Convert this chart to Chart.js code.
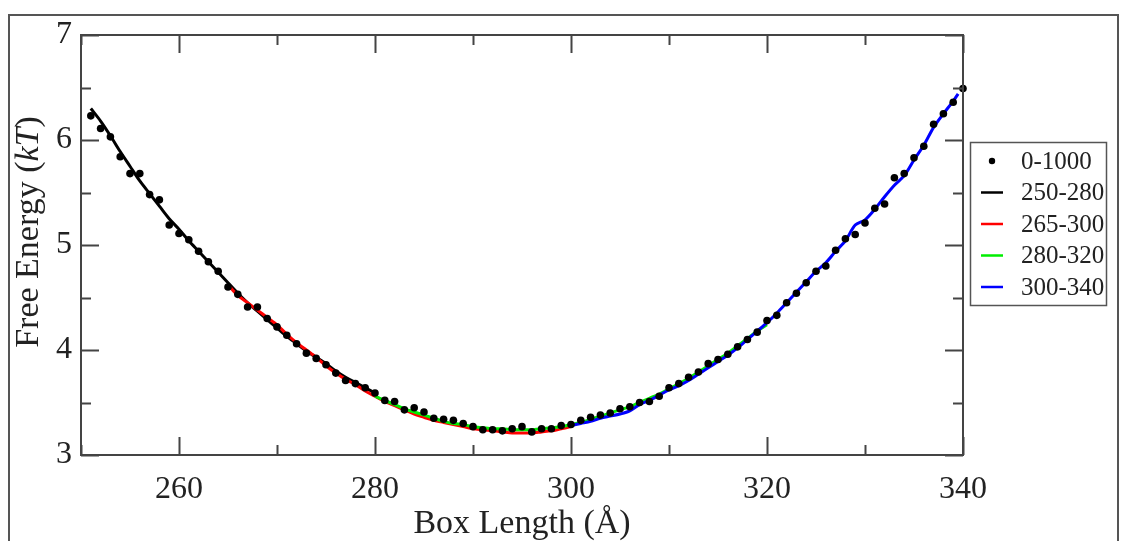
<!DOCTYPE html>
<html><head><meta charset="utf-8">
<script src="https://cdn.jsdelivr.net/npm/chart.js@4.4.1/dist/chart.umd.min.js"></script>
<style>
html,body{margin:0;padding:0;background:#fff;width:1121px;height:541px;overflow:hidden}
#frame{position:absolute;left:8px;top:14px;width:1111px;height:600px;border:2px solid #555;box-sizing:border-box}
#wrap{position:absolute;left:0;top:0;width:1121px;height:541px}
</style></head><body>
<div id="frame"></div>
<div id="wrap"><canvas id="c" width="1121" height="541"></canvas></div>
<script>
// ---- data ----
const boxLength = [251,252,253,254,255,256,257,258,259,260,261,262,263,264,265,266,267,268,269,270,
  271,272,273,274,275,276,277,278,279,280,281,282,283,284,285,286,287,288,289,290,
  291,292,293,294,295,296,297,298,299,300,301,302,303,304,305,306,307,308,309,310,
  311,312,313,314,315,316,317,318,319,320,321,322,323,324,325,326,327,328,329,330,
  331,332,333,334,335,336,337,338,339,340];
const energy0_1000 = [6.23,6.11,6.03,5.84,5.68,5.68,5.48,5.43,5.19,5.11,5.05,4.94,4.84,4.75,4.60,4.53,4.41,4.41,4.30,4.22,
  4.14,4.06,3.97,3.92,3.86,3.78,3.71,3.68,3.64,3.59,3.52,3.51,3.43,3.45,3.41,3.35,3.34,3.33,3.30,3.27,
  3.24,3.24,3.23,3.25,3.27,3.22,3.25,3.25,3.28,3.29,3.33,3.36,3.38,3.40,3.44,3.46,3.50,3.51,3.56,3.64,
  3.68,3.74,3.79,3.87,3.91,3.96,4.03,4.10,4.17,4.28,4.33,4.45,4.54,4.64,4.75,4.80,4.95,5.06,5.10,5.21,
  5.35,5.39,5.64,5.68,5.83,5.94,6.15,6.25,6.36,6.49];

const fit250_280_x = [251,252,253,254,255,256,257,258,259,260,261,262,263,264,265,266,267,268,269,270,
  271,272,273,274,275,276,277,278,279,280];
const fit250_280_y = [6.30,6.18,6.04,5.89,5.75,5.61,5.49,5.37,5.25,5.15,5.04,4.94,4.84,4.74,4.64,4.54,4.45,4.37,4.29,4.21,
  4.13,4.06,3.99,3.93,3.87,3.80,3.74,3.69,3.64,3.59];

const fit265_300_x = [265,266,267,268,269,270,271,272,273,274,275,276,277,278,279,280,281,282,283,284,
  285,286,287,288,289,290,291,292,293,294,295,296,297,298,299,300];
const fit265_300_y = [4.62,4.52,4.45,4.38,4.31,4.24,4.15,4.07,4.00,3.93,3.85,3.78,3.72,3.67,3.61,3.56,3.51,3.47,3.43,3.39,
  3.36,3.33,3.31,3.29,3.27,3.25,3.24,3.23,3.22,3.21,3.21,3.21,3.22,3.23,3.25,3.27];

const fit280_320_x = [280,281,282,283,284,285,286,287,288,289,290,291,292,293,294,295,296,297,298,299,
  300,301,302,303,304,305,306,307,308,309,310,311,312,313,314,315,316,317,318,319,320];
const fit280_320_y = [3.56,3.52,3.48,3.44,3.41,3.38,3.35,3.32,3.30,3.29,3.27,3.26,3.25,3.25,3.24,3.24,3.24,3.25,3.26,3.27,
  3.29,3.31,3.34,3.37,3.40,3.43,3.46,3.50,3.54,3.58,3.63,3.68,3.73,3.79,3.85,3.91,3.97,4.04,4.11,4.18,4.24];

const fit300_340_x = [300,301,302,303,304,305,306,307,308,309,310,311,312,313,314,315,316,317,318,319,
  320,321,322,323,324,325,326,327,328,329,330,331,332,333,334,335,336,337,338,339,339.5];
const fit300_340_y = [3.28,3.30,3.32,3.35,3.37,3.39,3.42,3.48,3.52,3.57,3.62,3.66,3.71,3.77,3.83,3.89,3.95,4.02,4.10,4.18,
  4.26,4.35,4.45,4.55,4.65,4.75,4.83,4.94,5.04,5.19,5.24,5.34,5.46,5.57,5.66,5.81,5.95,6.12,6.25,6.37,6.44];

const seriesLabels = ['0-1000','250-280','265-300','280-320','300-340'];
const seriesColors = ['#000000','#000000','#ff0000','#00ee00','#0000ff'];

const xTickValues = [260,280,300,320,340];
const xMinorValues = [250,270,290,310,330];
const yTickValues = [3,4,5,6,7];
const yMinorValues = [3.5,4.5,5.5,6.5];

const xTitle = 'Box Length (Å)';
const yTitleParts = [['Free Energy (', false], ['kT', true], [')', false]];

// ---- helpers ----
const pts = (xs, ys) => xs.map((x, i) => ({x: x, y: ys[i]}));
const SERIF = '"Liberation Serif", "Times New Roman", serif';

const framePlugin = {
  id: 'frameTicks',
  afterDatasetsDraw(chart) {
    const {ctx, chartArea: a, scales: {x, y}} = chart;
    ctx.save();
    ctx.strokeStyle = '#444';
    ctx.lineWidth = 2;
    const major = 18, minor = 10;
    const drawX = (vals, len) => vals.forEach(v => {
      const px = Math.round(x.getPixelForValue(v)) + 0.5;
      ctx.beginPath(); ctx.moveTo(px, a.bottom); ctx.lineTo(px, a.bottom - len);
      ctx.moveTo(px, a.top); ctx.lineTo(px, a.top + len); ctx.stroke();
    });
    const drawY = (vals, len) => vals.forEach(v => {
      const py = Math.round(y.getPixelForValue(v)) + 0.5;
      ctx.beginPath(); ctx.moveTo(a.left, py); ctx.lineTo(a.left + len, py);
      ctx.moveTo(a.right, py); ctx.lineTo(a.right - len, py); ctx.stroke();
    });
    drawX(xTickValues, major); drawX(xMinorValues, minor);
    drawY(yTickValues, major); drawY(yMinorValues, minor);
    ctx.strokeRect(a.left, a.top, a.right - a.left, a.bottom - a.top);
    ctx.restore();
  }
};

const legendPlugin = {
  id: 'boxLegend',
  afterDraw(chart) {
    const ctx = chart.ctx;
    ctx.save();
    ctx.strokeStyle = '#555';
    ctx.lineWidth = 1.5;
    ctx.strokeRect(970.5, 142.5, 136, 163);
    ctx.font = '25px ' + SERIF;
    ctx.textBaseline = 'middle';
    ctx.fillStyle = '#222';
    const y0 = 161, dy = 31.5;
    chart.data.datasets.forEach((ds, i) => {
      const yy = y0 + i * dy;
      if (i === 0) {
        ctx.beginPath(); ctx.fillStyle = '#000';
        ctx.arc(992, yy, 3.2, 0, Math.PI * 2); ctx.fill();
      } else {
        ctx.strokeStyle = ds.borderColor; ctx.lineWidth = 2.5;
        ctx.beginPath(); ctx.moveTo(981, yy); ctx.lineTo(1003, yy); ctx.stroke();
      }
      ctx.fillStyle = '#222';
      ctx.fillText(ds.label, 1021, yy + 1);
    });
    ctx.restore();
  }
};

const yTitlePlugin = {
  id: 'yTitle',
  afterDraw(chart) {
    const ctx = chart.ctx;
    ctx.save();
    ctx.translate(29, 232);
    ctx.rotate(-Math.PI / 2);
    ctx.textBaseline = 'middle';
    ctx.fillStyle = '#222';
    const fonts = yTitleParts.map(p => (p[1] ? 'italic ' : '') + '34px ' + SERIF);
    let total = 0;
    const widths = yTitleParts.map((p, i) => { ctx.font = fonts[i]; const w = ctx.measureText(p[0]).width; total += w; return w; });
    let xx = -total / 2;
    yTitleParts.forEach((p, i) => { ctx.font = fonts[i]; ctx.fillText(p[0], xx, 0); xx += widths[i]; });
    ctx.restore();
  }
};

new Chart(document.getElementById('c'), {
  type: 'line',
  data: {
    datasets: [
      {label: seriesLabels[0], data: pts(boxLength, energy0_1000), showLine: false,
       pointRadius: 3.8, pointBackgroundColor: seriesColors[0], pointBorderWidth: 0, order: 0, clip: false},
      {label: seriesLabels[1], data: pts(fit250_280_x, fit250_280_y), borderColor: seriesColors[1],
       borderWidth: 3, pointRadius: 0, tension: 0.3, order: 4},
      {label: seriesLabels[2], data: pts(fit265_300_x, fit265_300_y), borderColor: seriesColors[2],
       borderWidth: 3, pointRadius: 0, tension: 0.3, order: 3},
      {label: seriesLabels[3], data: pts(fit280_320_x, fit280_320_y), borderColor: seriesColors[3],
       borderWidth: 3, pointRadius: 0, tension: 0.3, order: 2},
      {label: seriesLabels[4], data: pts(fit300_340_x, fit300_340_y), borderColor: seriesColors[4],
       borderWidth: 3, pointRadius: 0, tension: 0.3, order: 1}
    ]
  },
  options: {
    responsive: false,
    animation: false,
    layout: {padding: {left: 0, top: 35, right: 158, bottom: 0}},
    plugins: {legend: {display: false}, tooltip: {enabled: false}},
    scales: {
      x: {
        type: 'linear', min: 250, max: 340,
        afterBuildTicks: s => { s.ticks = xTickValues.map(v => ({value: v})); },
        afterFit: s => { s.height = 86; },
        grid: {display: false, drawTicks: false},
        border: {display: false},
        ticks: {padding: 15, color: '#222', font: {family: SERIF, size: 32}, maxRotation: 0, callback: v => String(v)},
        title: {display: true, text: xTitle, color: '#222', font: {family: SERIF, size: 34, lineHeight: 1.0}, padding: {top: 0, bottom: 0}}
      },
      y: {
        type: 'linear', min: 3, max: 7,
        afterBuildTicks: s => { s.ticks = yTickValues.map(v => ({value: v})); },
        afterFit: s => { s.width = 81; },
        grid: {display: false, drawTicks: false},
        border: {display: false},
        ticks: {padding: 9, color: '#222', font: {family: SERIF, size: 32}, callback: v => String(v)}
      }
    }
  },
  plugins: [framePlugin, legendPlugin, yTitlePlugin]
});
</script>
</body></html>
